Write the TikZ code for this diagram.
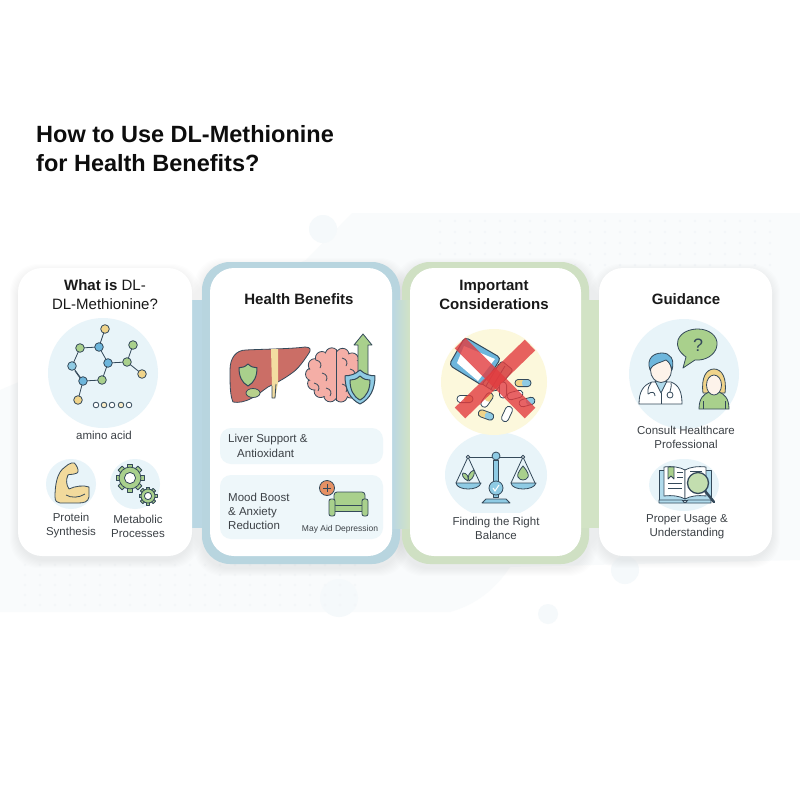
\documentclass[tikz,border=0pt]{standalone}
\usepackage{fontspec}
\setmainfont{Liberation Sans}
\usepackage{xcolor}
\definecolor{inkline}{HTML}{34495A}
\definecolor{textgray}{HTML}{3C4146}
\definecolor{icebg}{HTML}{E8F4F9}
\definecolor{backdrop}{HTML}{F9FBFC}
\definecolor{backdot}{HTML}{F3F6F9}
\definecolor{backblob}{HTML}{F5F9FB}
\definecolor{frameblue}{HTML}{B8D5DF}
\definecolor{stripblue}{HTML}{BAD7E3}
\definecolor{framegreen}{HTML}{CFE0C3}
\definecolor{stripgreen}{HTML}{D2E3C5}
\definecolor{leafgreen}{HTML}{A9D08C}
\definecolor{atomblue}{HTML}{6DB6DC}
\definecolor{atomyellow}{HTML}{F0D48A}
\definecolor{skyblue}{HTML}{8FCBE4}
\definecolor{liverred}{HTML}{CB6E66}
\definecolor{brainpink}{HTML}{F4AEA6}
\definecolor{crossred}{HTML}{E23C3F}
\definecolor{paleyellow}{HTML}{FCF8DC}
\definecolor{skintone}{HTML}{FDF3EA}
\tikzset{
	card/.style={fill=white,rounded corners=24pt},
	frame/.style={rounded corners=28pt},
	heading/.style={font=\fontsize{15}{18.5}\selectfont\bfseries,text=black!90,align=center,inner sep=0pt},
	label/.style={font=\fontsize{11.5}{14}\selectfont,text=textgray,align=center,inner sep=0pt},
	leftlabel/.style={font=\fontsize{11.5}{14}\selectfont,text=textgray,align=left,inner sep=0pt,anchor=west},
	icon/.style={draw=inkline,line width=0.8pt,line join=round},
	atom/.style={draw=inkline,line width=0.8pt},
	pill/.style={fill=icebg!75,rounded corners=11pt},
}
\newcommand{\softshadow}[4]{% x1 y1 x2 y2
	\foreach \s in {1,...,8}
		\fill[black,opacity=0.008,rounded corners=28pt] (#1-\s,#2+4-\s) rectangle (#3+\s,#4+4+\s);
}
\newcommand{\shieldicon}[6]{% x y halfwidth halfheight fill stroke
	\begin{scope}[shift={(#1,#2)},x=#3pt,y=-#4pt]
		\filldraw[fill=#5,draw=#6,line width=1pt,line join=round]
			(0,-1) .. controls (0.35,-0.72) and (0.7,-0.66) .. (1,-0.66)
			.. controls (1,0.1) and (0.7,0.7) .. (0,1)
			.. controls (-0.7,0.7) and (-1,0.1) .. (-1,-0.66)
			.. controls (-0.7,-0.66) and (-0.35,-0.72) .. (0,-1) -- cycle;
	\end{scope}
}
\newcommand{\gearicon}[3]{% x y radius
	\begin{scope}[shift={(#1,#2)}]
		\foreach \a in {0,45,...,315}
			\filldraw[icon,fill=leafgreen,rotate=\a] (-0.2*#3,0) rectangle (0.2*#3,1.0*#3);
		\filldraw[icon,fill=leafgreen] (0,0) circle (0.78*#3 pt);
		\filldraw[icon,fill=white] (0,0) circle (0.4*#3 pt);
	\end{scope}
}
\newcommand{\capsule}[5]{% x y angle colour1 colour2
	\begin{scope}[shift={(#1,#2)},rotate=#3]
		\fill[#4,rounded corners=3pt] (-8,-3.6) rectangle (1,3.6);
		\fill[#5,rounded corners=3pt] (-1,-3.6) rectangle (8,3.6);
		\draw[icon,rounded corners=3.4pt] (-8,-3.6) rectangle (8,3.6);
	\end{scope}
}
\begin{document}
\begin{tikzpicture}[x=1pt,y=-1pt]
	\useasboundingbox (0,0) rectangle (800,800);
	\fill[white] (0,0) rectangle (800,800);
	% backdrop
	\fill[backdrop] (352,213) -- (800,213) -- (800,560) -- (510,567) .. controls (495,590) and (475,605) .. (450,612) -- (0,612) -- (0,390) -- (306,260) -- cycle;
	\fill[backblob] (323,229) circle (14pt);
	\fill[backblob] (625,570) circle (14pt);
	\fill[backblob] (548,614) circle (10pt);
	\fill[backblob] (339,598) circle (19pt);
	\foreach \i in {0,...,22}
		\foreach \j in {0,...,4}
			\fill[backdot] (440+15*\i,221+11*\j) circle (1.4pt);
	\foreach \i in {0,...,22}
		\foreach \j in {0,...,4}
			\fill[backdot] (25+15*\i,565+10*\j) circle (1.2pt);

	% strips and frames
	\softshadow{18}{268}{192}{556}
	\softshadow{202}{262}{400}{564}
	\softshadow{402}{262}{589}{564}
	\softshadow{599}{268}{772}{556}
	\fill[stripblue] (185,300) rectangle (215,528);
	\filldraw[draw=none,fill=frameblue,frame] (202,262) rectangle (400,564);
	\filldraw[draw=none,fill=framegreen,frame] (402,262) rectangle (589,564);
	\shade[left color=stripblue,right color=stripgreen] (392,300) rectangle (410,528);
	\fill[stripgreen] (575,300) rectangle (605,528);

	% cards
	\fill[card] (18,268) rectangle (192,556);
	\fill[card] (210,268) rectangle (392,556);
	\fill[card] (410,268) rectangle (581,556);
	\fill[card] (599,268) rectangle (772,556);

	% title
	\node[anchor=west,font=\fontsize{23.5}{29}\selectfont\bfseries,align=left,inner sep=0pt,text=black!95] (title) at (36,149) {How to Use DL-Methionine\\for Health Benefits?};

	% first card
	\node[heading,font=\fontsize{15}{18.5}\selectfont] (whatis) at (105,294.5) {\textbf{What is} DL-\\DL-Methionine?};
	\fill[icebg] (103,373) circle (55pt);
	\draw[icon] (105,329) -- (99,347) -- (80,348) -- (72,366) -- (83,381) -- (102,380) -- (108,363) -- (99,347);
	\draw[icon] (108,363) -- (127,362) -- (133,345);
	\draw[icon] (127,362) -- (142,374);
	\draw[icon] (83,381) -- (78,400);
	\draw[icon] (75,371) -- (85,385);
	\foreach \x/\y/\c in {105/329/atomyellow,99/347/atomblue,80/348/leafgreen,72/366/skyblue,83/381/atomblue,102/380/leafgreen,108/363/atomblue,127/362/leafgreen,133/345/leafgreen,142/374/atomyellow,78/400/atomyellow}
		\filldraw[atom,fill=\c] (\x,\y) circle (4.3pt);
	\foreach \x/\c in {96/white,104/atomyellow!50,112/white,121/atomyellow!50,129/white}
		\filldraw[atom,fill=\c] (\x,405) circle (2.8pt);
	\node[label] (aminoacid) at (104,435) {amino acid};
	\fill[icebg] (71,484) circle (25pt);
	\fill[icebg] (135,484) circle (25pt);
	\filldraw[icon,fill=atomyellow!85] (55,497) .. controls (55,485) and (57,472) .. (65,467)
		.. controls (69,463) and (75,461) .. (76,465) .. controls (78,468) and (79,472) .. (77,473)
		.. controls (73,475) and (69,474) .. (68,475) .. controls (66,479) and (66,485) .. (69,489)
		.. controls (75,486) and (84,485) .. (89,487) -- (89,497)
		.. controls (88,502) and (84,503) .. (78,503) -- (60,503) .. controls (57,503) and (55,501) .. (55,497) -- cycle;
	\draw[icon] (66,495) .. controls (71,498) and (79,498) .. (85,494);
	\gearicon{130}{478}{14}
	\gearicon{148}{496}{9}
	\node[label] (protein) at (71,526) {Protein\\Synthesis};
	\node[label] (metabolic) at (138,526) {Metabolic\\Processes};

	% second card
	\node[heading] (health) at (299,299) {Health Benefits};
	\filldraw[icon,fill=liverred] (230,370) .. controls (230,358) and (236,350) .. (246,350)
		.. controls (265,349) and (290,349) .. (305,347) .. controls (311,347) and (311,350) .. (309,353)
		.. controls (303,362) and (298,369) .. (292,373) .. controls (284,379) and (276,383) .. (268,387)
		.. controls (262,391) and (258,395) .. (252,398) .. controls (245,402) and (238,403) .. (233,402)
		.. controls (230,395) and (230,385) .. (230,370) -- cycle;
	\filldraw[icon,fill=atomyellow!80,draw=none] (271,349) -- (278,349) -- (278,383) -- (275,398) -- (272,398) -- (272,386) -- cycle;
	\draw[icon] (272,386) -- (272,398) -- (275,398) -- (276,384);
	\filldraw[icon,fill=leafgreen!80!atomyellow] (253,393) ellipse (7pt and 4.5pt);
	\shieldicon{248}{375}{9}{11}{leafgreen}{inkline}
	% brain
	\foreach \a in {0,26,...,338}
		\filldraw[icon,fill=brainpink] ({336+24*cos(\a)},{375+21*sin(\a)}) circle (6.5pt);
	\fill[brainpink] (336,375) ellipse (26.5pt and 23.5pt);
	\draw[icon] (336,350) -- (336,401);
	\foreach \x/\y in {316/360,322/373,314/383,326/388,342/358,350/369,342/384}
		\draw[icon] (\x,\y) .. controls (\x+5,\y+1) and (\x+6,\y+5) .. (\x+4,\y+8);
	% arrow and shield
	\filldraw[icon,fill=leafgreen] (358,376) -- (358,345) -- (354,345) -- (363,334) -- (372,345) -- (368,345) -- (368,376) -- cycle;
	\shieldicon{360}{387}{15}{17}{skyblue}{inkline}
	\shieldicon{360}{388}{10}{12}{leafgreen}{inkline}
	\fill[pill] (220,428) rectangle (383,464);
	\fill[pill] (220,475) rectangle (383,539);
	\node[leftlabel] (liver) at (228,440) {Liver Support \&};
	\node[leftlabel] (antiox) at (237,453) {Antioxidant};
	\node[leftlabel] (mood) at (228,511) {Mood Boost\\\& Anxiety\\Reduction};
	% sofa
	\filldraw[icon,fill=leafgreen,rounded corners=3pt] (334,506) -- (334,492) -- (365,492) -- (365,506) -- cycle;
	\filldraw[icon,fill=leafgreen] (334,505) rectangle (364,511);
	\filldraw[icon,fill=leafgreen,rounded corners=2pt] (329,499) rectangle (335,516);
	\filldraw[icon,fill=leafgreen,rounded corners=2pt] (362,499) rectangle (368,516);
	\filldraw[icon,fill=liverred!60!orange!80] (327,488) circle (7.5pt);
	\draw[icon] (323,488) -- (331,488) (327,484) -- (327,492);
	\node[font=\fontsize{8.5}{10}\selectfont,text=textgray,inner sep=0pt] (depression) at (340,529) {May Aid Depression};

	% third card
	\node[heading] (important) at (494,295) {Important\\Considerations};
	\begin{scope}
		\clip (410,400) rectangle (581,512);
		\fill[icebg] (496,475) ellipse (51pt and 43pt);
	\end{scope}
	\fill[paleyellow] (494,382) circle (53pt);
	\filldraw[icon,line width=1pt,fill=atomblue,rounded corners=4pt] (465,337) -- (501,358) -- (483,386) -- (449,365) -- cycle;
	\fill[white] (464,346) -- (495,359) -- (478,381) -- (457,363) -- cycle;
	\filldraw[icon,fill=atomyellow!60!atomblue,rounded corners=2pt] (502,361) -- (513,370) -- (495,392) -- (482,384) -- cycle;
	\draw[icon] (499,364) -- (486,386) (505,366) -- (491,389);
	\capsule{523}{383}{0}{atomyellow}{skyblue}
	\capsule{465}{399}{0}{white}{atomyellow}
	\capsule{486}{415}{-20}{atomyellow}{skyblue}
	\capsule{507}{414}{65}{white}{white}
	\capsule{527}{402}{15}{white}{skyblue}
	\capsule{515}{395}{15}{white}{white}
	\capsule{503}{390}{90}{white}{white}
	\capsule{487}{400}{55}{white}{atomyellow}
	\draw[crossred,opacity=0.8,line width=15pt] (460,343) -- (530,413);
	\draw[crossred,opacity=0.8,line width=15pt] (530,345) -- (460,413);
	% scale
	\draw[icon,line width=1pt] (468,457) -- (523,457);
	\filldraw[icon,fill=skyblue] (493.5,460) rectangle (498.5,497);
	\filldraw[icon,fill=skyblue] (482,503) -- (486,499) -- (506,499) -- (510,503) -- cycle;
	\filldraw[icon,fill=skyblue] (496,456) circle (4pt);
	\filldraw[icon,fill=skyblue] (496,488) circle (7pt);
	\draw[white,line width=1pt] (493,488) -- (495,491) -- (499,485);
	\draw[icon] (456,483) -- (468,457) -- (480,483);
	\draw[icon] (511,483) -- (523,457) -- (535,483);
	\filldraw[icon,fill=white] (468,457) circle (1.8pt);
	\filldraw[icon,fill=white] (523,457) circle (1.8pt);
	\filldraw[icon,fill=skyblue] (456,483) .. controls (457,491) and (479,491) .. (481,483) -- cycle;
	\filldraw[icon,fill=skyblue] (511,483) .. controls (512,491) and (534,491) .. (536,483) -- cycle;
	\filldraw[icon,fill=leafgreen] (468,481) .. controls (462,478) and (462,474) .. (463,473) .. controls (467,473) and (469,477) .. (468,481) -- cycle;
	\filldraw[icon,fill=leafgreen] (469,481) .. controls (474,478) and (475,473) .. (474,470) .. controls (469,472) and (467,477) .. (469,481) -- cycle;
	\filldraw[icon,fill=leafgreen] (523,466) .. controls (518,472) and (517,475) .. (518,477) .. controls (520,481) and (526,481) .. (528,477) .. controls (529,475) and (528,472) .. (523,466) -- cycle;
	\node[label] (finding) at (496,528) {Finding the Right\\Balance};

	% fourth card
	\node[heading] (guidance) at (686,299) {Guidance};
	\fill[icebg] (684,374) circle (55pt);
	\filldraw[icon,fill=leafgreen] (683,368) -- (686,357) .. controls (679,352) and (676,346) .. (678,340)
		.. controls (681,332) and (690,329) .. (698,329) .. controls (709,329) and (718,336) .. (717,345)
		.. controls (716,355) and (705,361) .. (695,360) -- cycle;
	\node[font=\fontsize{18}{20}\selectfont,text=inkline,inner sep=0pt] (question) at (698,345) {?};
	% doctor
	\filldraw[icon,fill=white] (639,404) .. controls (639,392) and (643,385) .. (652,382) -- (671,382) .. controls (679,385) and (682,392) .. (682,404) -- cycle;
	\filldraw[icon,fill=skyblue!70] (655,381) -- (661,393) -- (667,381) -- cycle;
	\draw[icon] (651,383) .. controls (647,388) and (648,392) .. (648,394);
	\draw[icon] (648,394) .. controls (652,391) and (655,392) .. (655,396);
	\draw[icon] (671,383) .. controls (672,386) and (670,390) .. (670,392);
	\filldraw[icon,fill=white] (670,395) circle (3pt);
	\draw[icon] (661,393) -- (661,404);
	\filldraw[icon,fill=skintone] (661,370) ellipse (10.5pt and 12.5pt);
	\filldraw[icon,fill=atomblue] (650,370) .. controls (646,358) and (654,353) .. (662,353) .. controls (670,353) and (675,359) .. (672,370) .. controls (671,365) and (669,362) .. (666,360) .. controls (660,363) and (653,363) .. (650,370) -- cycle;
	% patient
	\filldraw[icon,fill=atomyellow] (703,393) .. controls (701,378) and (706,369) .. (714,369) .. controls (722,369) and (727,378) .. (725,393) -- cycle;
	\filldraw[icon,fill=leafgreen] (699,409) .. controls (699,398) and (704,394) .. (709,392) -- (719,392) .. controls (724,394) and (729,398) .. (729,409) -- cycle;
	\filldraw[icon,fill=skintone] (714,385) ellipse (7.5pt and 10pt);
	\draw[icon] (703,401) -- (703,409) (725,401) -- (725,409);
	\node[label] (consult) at (686,437) {Consult Healthcare\\Professional};
	\fill[icebg] (684,485) ellipse (35pt and 26pt);
	% book
	\filldraw[icon,fill=skyblue!70] (659,470) rectangle (711,500);
	\draw[icon,fill=skyblue!70] (659,500) -- (682,500) -- (685,503) -- (688,500) -- (711,500) -- (711,503) -- (659,503) -- cycle;
	\filldraw[icon,fill=white] (664,467) .. controls (672,466) and (680,467) .. (685,470) -- (685,499) .. controls (680,496) and (672,495) .. (664,496) -- cycle;
	\filldraw[icon,fill=white] (706,467) .. controls (698,466) and (690,467) .. (685,470) -- (685,499) .. controls (690,496) and (698,495) .. (706,496) -- cycle;
	\filldraw[icon,fill=leafgreen] (668,467) -- (668,479) -- (671,476) -- (674,479) -- (674,467) -- cycle;
	\foreach \x/\y/\l in {677/472/6,677/477/6,668/483/14,668/488/14}
		\draw[icon] (\x,\y) -- ++(\l,0);
	\draw[icon] (690,471) -- (702,471);
	\draw[inkline,line width=2.5pt,line cap=round] (705,491) -- (714,502);
	\filldraw[icon,line width=1.3pt,fill=leafgreen!70] (698,483) circle (10.5pt);
	\node[label] (usage) at (687,527) {Proper Usage \&\\Understanding};
\end{tikzpicture}
\end{document}
